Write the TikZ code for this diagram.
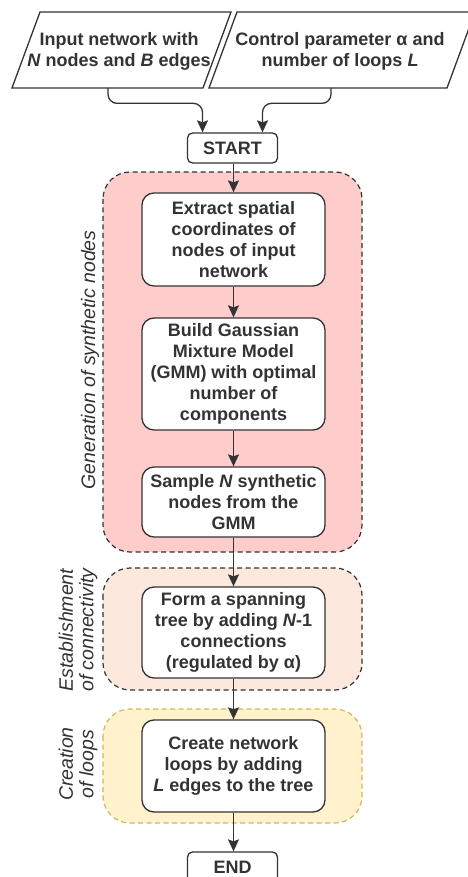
\documentclass[tikz,border=0pt]{standalone}
\usepackage{fontspec}
\setmainfont{Liberation Sans}
\usetikzlibrary{arrows.meta}
\definecolor{ink}{HTML}{333333}
\definecolor{pinkfill}{HTML}{FFCCCC}
\definecolor{peachfill}{HTML}{FCE8DC}
\definecolor{yellowfill}{HTML}{FFF2CC}
\definecolor{yellowline}{HTML}{D6B656}
\begin{document}
\begin{tikzpicture}[x=1pt,y=1pt,
  every node/.style={text=ink},
  txt/.style={font=\fontsize{18}{21}\selectfont\bfseries, align=center},
  stepbox/.style={draw=ink, line width=1.3pt, fill=white, rounded corners=12pt, inner sep=0pt,
     minimum width=183pt, font=\fontsize{18}{21}\selectfont\bfseries, align=center},
  termbox/.style={draw=ink, line width=1.3pt, fill=white, rounded corners=5pt, inner sep=0pt,
     minimum width=90pt, minimum height=30pt, font=\fontsize{18}{21}\selectfont\bfseries},
  grp/.style={dashed, dash pattern=on 5pt off 3.5pt, line width=1.2pt, rounded corners=27pt},
  grplabel/.style={font=\fontsize{19.5}{20.5}\selectfont\itshape, align=center, rotate=90},
  arr/.style={draw=ink, line width=1.3pt, -{Stealth[length=12pt,width=11pt,inset=2pt]}},
  para/.style={draw=ink, line width=1.3pt, fill=white}
]
\useasboundingbox (0,0) rectangle (467,-877);

% groups
\draw[grp, draw=ink, fill=pinkfill] (103,-172) rectangle (362,-552);
\draw[grp, draw=ink, fill=peachfill] (103,-568) rectangle (362,-690);
\draw[grp, draw=yellowline, fill=yellowfill] (103,-709) rectangle (362,-823);

% group labels
\node[grplabel] (lg1) at (90,-360) {Generation of synthetic nodes};
\node[grplabel] (lg2) at (78,-630) {Establishment\\of connectivity};
\node[grplabel] (lg3) at (78,-764) {Creation\\of loops};

% input parallelograms
\draw[para] (40,-12) -- (231,-12) -- (203,-88) -- (12,-88) -- cycle;
\draw[para] (237,-12) -- (475,-12) -- (447,-88) -- (209,-88) -- cycle;
\node[txt] (in1) at (119,-51) {Input network with\\\textit{N} nodes and \textit{B} edges};
\node[txt] (in2) at (340,-51) {Control parameter α and\\number of loops \textit{L}};
\coordinate (o1) at (108,-88);
\coordinate (o2) at (331,-88);

% terminals
\node[termbox] (start) at (232.5,-148) {START};
\node[termbox] (end) at (232.5,-867) {END};

% steps
\node[stepbox, minimum height=93pt] (b1) at (233.5,-239.5) {Extract spatial\\coordinates of\\nodes of input\\network};
\node[stepbox, minimum height=112pt] (b2) at (233.5,-374) {Build Gaussian\\Mixture Model\\(GMM) with optimal\\number of\\components};
\node[stepbox, minimum height=70pt] (b3) at (233.5,-502) {Sample \textit{N} synthetic\\nodes from the\\GMM};
\node[stepbox, minimum height=91pt] (b4) at (233.5,-632.5) {Form a spanning\\tree by adding \textit{N}-1\\connections\\(regulated by α)};
\node[stepbox, minimum height=92pt] (b5) at (233.5,-766) {Create network\\loops by adding\\\textit{L} edges to the tree};

% connectors
\draw[arr, rounded corners=9pt] (o1) |- ([xshift=-30pt,yshift=29pt]start.north) -- ([xshift=-30pt]start.north);
\draw[arr, rounded corners=9pt] (o2) |- ([xshift=30pt,yshift=29pt]start.north) -- ([xshift=30pt]start.north);
\draw[arr] (start.south -| b1.north) -- (b1.north);
\draw[arr] (b1) -- (b2);
\draw[arr] (b2) -- (b3);
\draw[arr] (b3) -- (b4);
\draw[arr] (b4) -- (b5);
\draw[arr] (b5.south) -- (b5.south |- end.north);
\end{tikzpicture}
\end{document}
